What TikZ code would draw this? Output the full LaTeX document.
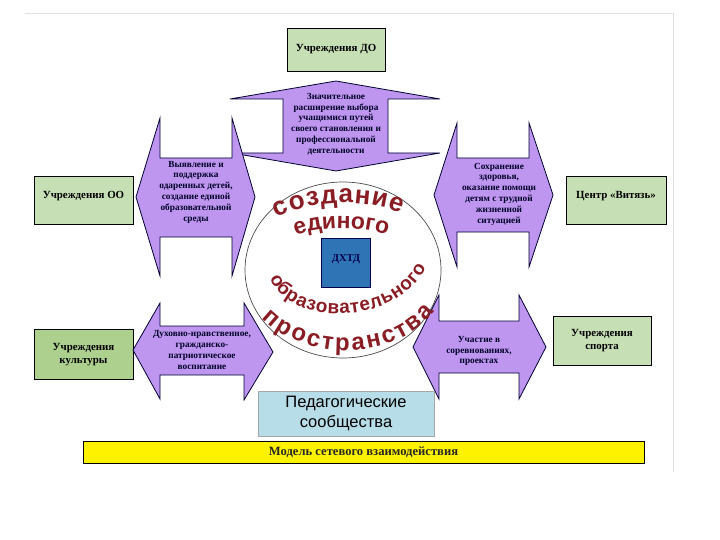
\documentclass[tikz,border=0pt]{standalone}
\usepackage{fontspec}
\setmainfont{Liberation Serif}
\setsansfont{Liberation Sans}
\usepackage{xcolor}
\usepackage{tikz}
\usetikzlibrary{decorations.text}
\definecolor{arrowviolet}{HTML}{BE96F0}
\definecolor{boxgreen}{HTML}{C6DFB4}
\definecolor{boxdarkgreen}{HTML}{AED08F}
\definecolor{squareblue}{HTML}{2F75B5}
\definecolor{commcyan}{HTML}{B7DEE8}
\definecolor{wordred}{HTML}{8A1C24}
\tikzset{
	arrowshape/.style={draw=black!80!blue,fill=arrowviolet,line width=0.8pt,line join=miter},
	arrowlabel/.style={align=center,font=\bfseries\fontsize{9.3}{10.8}\selectfont,text=black!85!blue,inner sep=0pt},
	orgbox/.style={draw=black,fill=boxgreen,line width=0.8pt,align=center,font=\bfseries\fontsize{10.9}{13}\selectfont,inner sep=0pt},
	bentword/.style={decorate,decoration={text along path,text align={fit to path},text color=wordred,text={#1}}}
}
\begin{document}
\begin{tikzpicture}[x=1pt,y=-1pt]
	\useasboundingbox (0,0) rectangle (720,540);
	\draw[black!12] (25,13) -- (673,13) -- (673,472);
	% boxes
	\node[orgbox,minimum width=98pt,minimum height=43pt] (uchdo) at (336,49.5) {Учреждения ДО};
	\node[orgbox,minimum width=99pt,minimum height=48pt] (uchoo) at (83.5,200) {\raisebox{10pt}{Учреждения ОО}};
	\node[orgbox,fill=boxdarkgreen,minimum width=99pt,minimum height=50pt] (uchkult) at (83.5,354) {\raisebox{-9pt}{\begin{tabular}{@{}c@{}}Учреждения\\культуры\end{tabular}}};
	\node[orgbox,minimum width=100pt,minimum height=48pt] (vityaz) at (616,200) {\raisebox{10pt}{Центр «Витязь»}};
	\node[orgbox,minimum width=98pt,minimum height=49pt] (uchsport) at (602,340.5) {\raisebox{-3pt}{\begin{tabular}{@{}c@{}}Учреждения\\спорта\end{tabular}}};
	% arrows
	\draw[arrowshape] (336,81) -- (440,99) -- (388,99) -- (388,153) -- (440,153) -- (336,171) -- (232,153) -- (283,153) -- (283,99) -- (230,99) -- cycle;
	\draw[arrowshape] (136,197) -- (160,118) -- (160,158) -- (232,158) -- (232,118) -- (255,197) -- (232,276) -- (232,237) -- (160,237) -- (160,276) -- cycle;
	\draw[arrowshape] (434,195) -- (457,123) -- (457,158) -- (529,158) -- (529,123) -- (553,195) -- (529,267) -- (529,232) -- (457,232) -- (457,267) -- cycle;
	% circle
	\draw[black!70,fill=white,line width=0.7pt] (343,270) ellipse (98 and 88);
	\draw[arrowshape] (133,350) -- (160,303) -- (160,326) -- (244,326) -- (244,303) -- (273,352) -- (244,400) -- (244,375) -- (160,375) -- (160,399) -- cycle;
	\draw[arrowshape] (413,347) -- (439,295) -- (439,321) -- (519,321) -- (519,295) -- (546,347) -- (519,399) -- (519,373) -- (439,373) -- (439,399) -- cycle;
	% arrow texts
	\node[arrowlabel] (vybor) at (336,124) {Значительное\\расширение выбора\\учащимися путей\\своего становления и\\профессиональной\\деятельности};
	\node[arrowlabel] (odar) at (196,192) {Выявление и\\поддержка\\одаренных детей,\\создание единой\\образовательной\\среды};
	\node[arrowlabel] (zdorov) at (499,194) {Сохранение\\здоровья,\\оказание помощи\\детям с трудной\\жизненной\\ситуацией};
	\node[arrowlabel] (duh) at (202,350) {Духовно-нравственное,\\гражданско-\\патриотическое\\воспитание};
	\node[arrowlabel] (sorev) at (479,351) {Участие в\\соревнованиях,\\проектах};
	% centre
	\node[draw=black!70!blue,fill=squareblue,minimum size=49pt,inner sep=0pt,font=\bfseries\fontsize{10.5}{12}\selectfont,text=black!70!blue] (dhtd) at (346,262.5) {\raisebox{8pt}{ДХТД}};
	\path[bentword={|\sffamily\bfseries\fontsize{26}{26}\selectfont|создание}] (277,218) .. controls (310,200) and (365,198) .. (401,213);
	\path[bentword={|\sffamily\bfseries\fontsize{23}{23}\selectfont|единого}] (296,236) .. controls (320,226) and (355,226) .. (385,234);
	\path[bentword={|\sffamily\bfseries\fontsize{19}{19}\selectfont|образовательного }] (270,278) .. controls (288,327) and (395,327) .. (426,268);
	\path[bentword={|\sffamily\bfseries\fontsize{24}{24}\selectfont|пространства}] (262,318) .. controls (305,362) and (395,362) .. (434,312);
	% bottom
	\node[draw=black!35,fill=commcyan,minimum width=176pt,minimum height=45pt,align=center,font=\sffamily\fontsize{16.5}{19.5}\selectfont,inner sep=0pt] (soob) at (346,413.5) {Педагогические\\сообщества};
	\node[draw=black,fill=yellow,minimum width=561pt,minimum height=22pt,font=\bfseries\fontsize{12.6}{14}\selectfont,text=black!85,inner sep=0pt] (model) at (363.5,452) {Модель сетевого взаимодействия};
\end{tikzpicture}
\end{document}
